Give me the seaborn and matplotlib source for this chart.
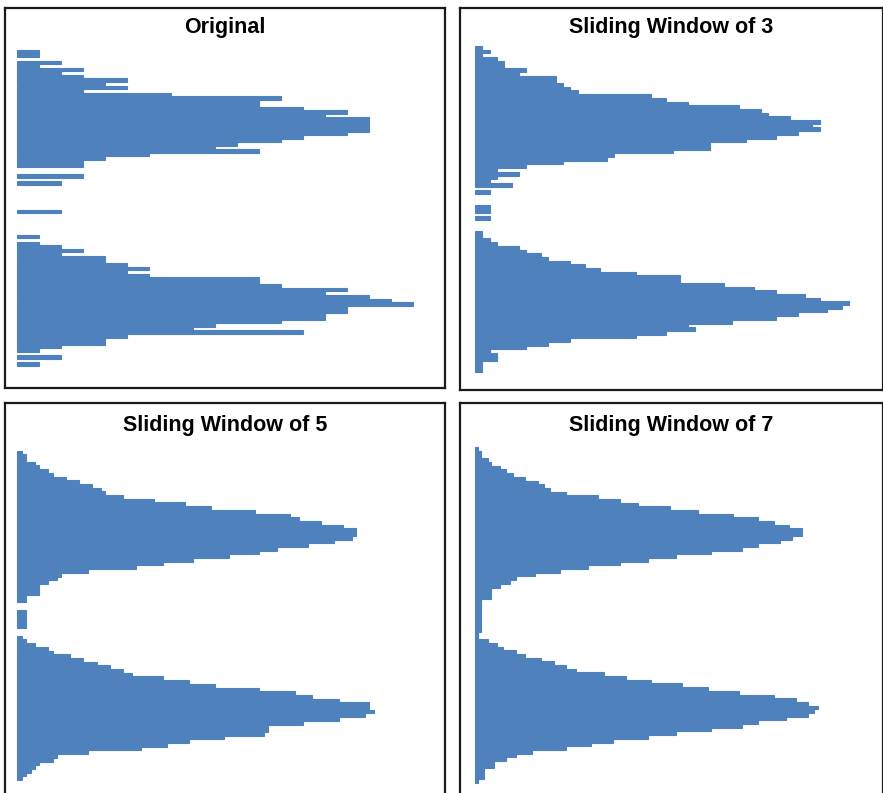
# Four horizontal histograms: original vs. sliding-window smoothed counts

import matplotlib
import matplotlib.pyplot as plt
import numpy as np
import seaborn as sns

matplotlib.use("Agg")

W, H = 883, 793            # output size in pixels (dpi 100)
BAR_COLOR = "#4F81BD"
UNIT_PX = 22.0             # pixels per count on the value axis

titles = ["Original", "Sliding Window of 3", "Sliding Window of 5", "Sliding Window of 7"]

# counts per bin, top to bottom
orig_counts = [
    1, 1, 0, 2, 1, 3, 2, 3, 5, 4, 5, 3, 7, 12, 11, 11, 13, 15, 14, 16, 16, 16, 16,
    15, 13, 12, 10, 9, 11, 6, 4, 3, 3,
    0, 0, 3, 0, 2, 0, 0, 0, 0, 0, 0, 0, 2, 0, 0, 0, 0, 0, 0,
    1, 0, 1, 2, 3, 2, 4, 4, 5, 6, 5, 6, 11, 11, 12, 15, 14, 16, 17, 18, 15, 15,
    14, 14, 12, 9, 8, 13, 5, 4, 4, 2, 1, 0, 2, 0, 1,
]
win3_counts = [
    0.33, 0.67, 0.33, 1.0, 1.33, 1.33, 2.33, 2.0, 3.67, 3.67, 4.0, 4.33, 4.67,
    8.0, 8.67, 9.67, 12.0, 13.0, 13.33, 14.33, 15.67, 15.33, 15.67, 14.67, 13.67,
    12.33, 10.67, 10.67, 9.0, 6.33, 6.0, 4.0, 2.33, 1.0, 2.0, 1.0, 0.67, 1.67,
    0, 0.67, 0, 0, 0, 0.67, 0.67, 0, 0.67, 0, 0, 0,
    0.33, 0.33, 0.67, 1.0, 2.0, 2.33, 3.0, 3.33, 4.33, 5.0, 5.67, 7.33, 9.33,
    9.33, 11.33, 12.67, 13.67, 15.0, 15.67, 17.0, 16.67, 16.0, 14.67, 13.67,
    11.67, 9.67, 10.0, 8.67, 7.33, 4.33, 3.33, 2.33, 0.67, 1.0, 1.0, 0.33, 0.33, 0.33,
]
win5_counts = [
    0.2, 0.4, 0.4, 0.8, 1.0, 1.4, 1.6, 2.2, 2.8, 3.4, 3.8, 4.0, 4.8, 6.2, 7.6,
    8.8, 10.8, 12.4, 12.8, 13.8, 14.8, 15.4, 15.4, 15.2, 14.4, 13.2, 11.8, 11.0,
    9.6, 8.0, 6.6, 5.4, 3.2, 2.0, 1.8, 1.4, 1.0, 1.0, 1.0, 0.4, 0.4,
    0, 0, 0.4, 0.4, 0.4, 0.4, 0.4, 0, 0,
    0.2, 0.4, 0.8, 1.4, 1.6, 2.4, 3.0, 3.6, 4.2, 4.8, 5.2, 6.6, 7.8, 9.0, 11.0,
    12.6, 13.4, 14.6, 16.0, 16.0, 16.2, 15.8, 14.6, 13.0, 11.4, 11.4, 11.2, 9.4,
    7.8, 6.8, 5.6, 3.2, 1.8, 1.6, 1.0, 0.8, 0.6, 0.4, 0.2,
]
win7_counts = [
    0.14, 0.29, 0.29, 0.57, 0.71, 1.14, 1.43, 1.71, 2.29, 2.86, 3.14, 3.43, 4.14,
    5.57, 6.57, 7.43, 8.86, 10.14, 11.71, 12.86, 13.57, 14.29, 14.86, 14.86,
    14.43, 13.86, 12.86, 12.14, 10.71, 9.14, 7.86, 6.57, 5.14, 3.86, 2.71, 1.86,
    1.57, 1.14, 0.71, 0.71, 0.71, 0.29, 0.29, 0.29, 0.29, 0.29, 0.29, 0.29, 0.29, 0.29,
    0.14, 0.14, 0.57, 1.0, 1.29, 1.86, 2.29, 3.0, 3.57, 4.14, 4.57, 5.86, 6.86,
    8.0, 9.43, 10.57, 12.0, 13.57, 14.57, 15.14, 15.57, 15.43, 15.14, 14.14,
    12.86, 12.14, 10.71, 9.14, 7.86, 6.29, 5.29, 4.14, 2.57, 1.86, 1.43, 0.86,
    0.86, 0.43, 0.43, 0.43, 0.14,
]

# frame box (left, top, right, bottom), bar baseline x, first bin top y, bin pitch, title y
LAYOUT = [
    ((5, 8, 445, 388), 17.3, 50.0, 3.55, 28),
    ((460, 8, 883, 390), 475.0, 46.0, 3.70, 28),
    ((5, 403, 445, 800), 17.3, 450.7, 3.70, 425),
    ((460, 403, 883, 800), 475.0, 447.3, 3.69, 425),
]


def draw_panel(fig, values, title, box, x0, y0, pitch, title_y):
    l, t, r, b = box
    ax = fig.add_axes([l / W, 1 - b / H, (r - l) / W, (b - t) / H])
    sns.barplot(
        x=values,
        y=np.arange(len(values)),
        orient="h",
        color=BAR_COLOR,
        saturation=1,
        width=1.0,
        linewidth=0.8,
        edgecolor=BAR_COLOR,   # same-colour edge closes hairline seams
        ax=ax,
    )
    # empty bins: no stub on the baseline
    for patch in ax.patches:
        if patch.get_width() == 0:
            patch.set_linewidth(0)
    ax.set_xlim((l - x0) / UNIT_PX, (r - x0) / UNIT_PX)
    ax.set_ylim((b - y0) / pitch - 0.5, (t - y0) / pitch - 0.5)
    ax.set_xticks([])
    ax.set_yticks([])
    ax.set_xlabel("")
    ax.set_ylabel("")
    for sp in ax.spines.values():
        sp.set_visible(True)
        sp.set_color("#1a1a1a")
        sp.set_linewidth(1.6)
    ax.text(0.5, 1 - (title_y - t) / (b - t), title, transform=ax.transAxes,
            ha="center", va="center", fontsize=15.5, fontweight="bold", color="black")
    return ax


sns.set_style("white")
plt.rcParams["font.family"] = ["Liberation Sans", "DejaVu Sans"]

fig = plt.figure(figsize=(W / 100, H / 100), dpi=100)
series = [orig_counts, win3_counts, win5_counts, win7_counts]
for vals, title, (box, x0, y0, pitch, ty) in zip(series, titles, LAYOUT):
    draw_panel(fig, vals, title, box, x0, y0, pitch, ty)

fig.savefig("out.png", dpi=100)
